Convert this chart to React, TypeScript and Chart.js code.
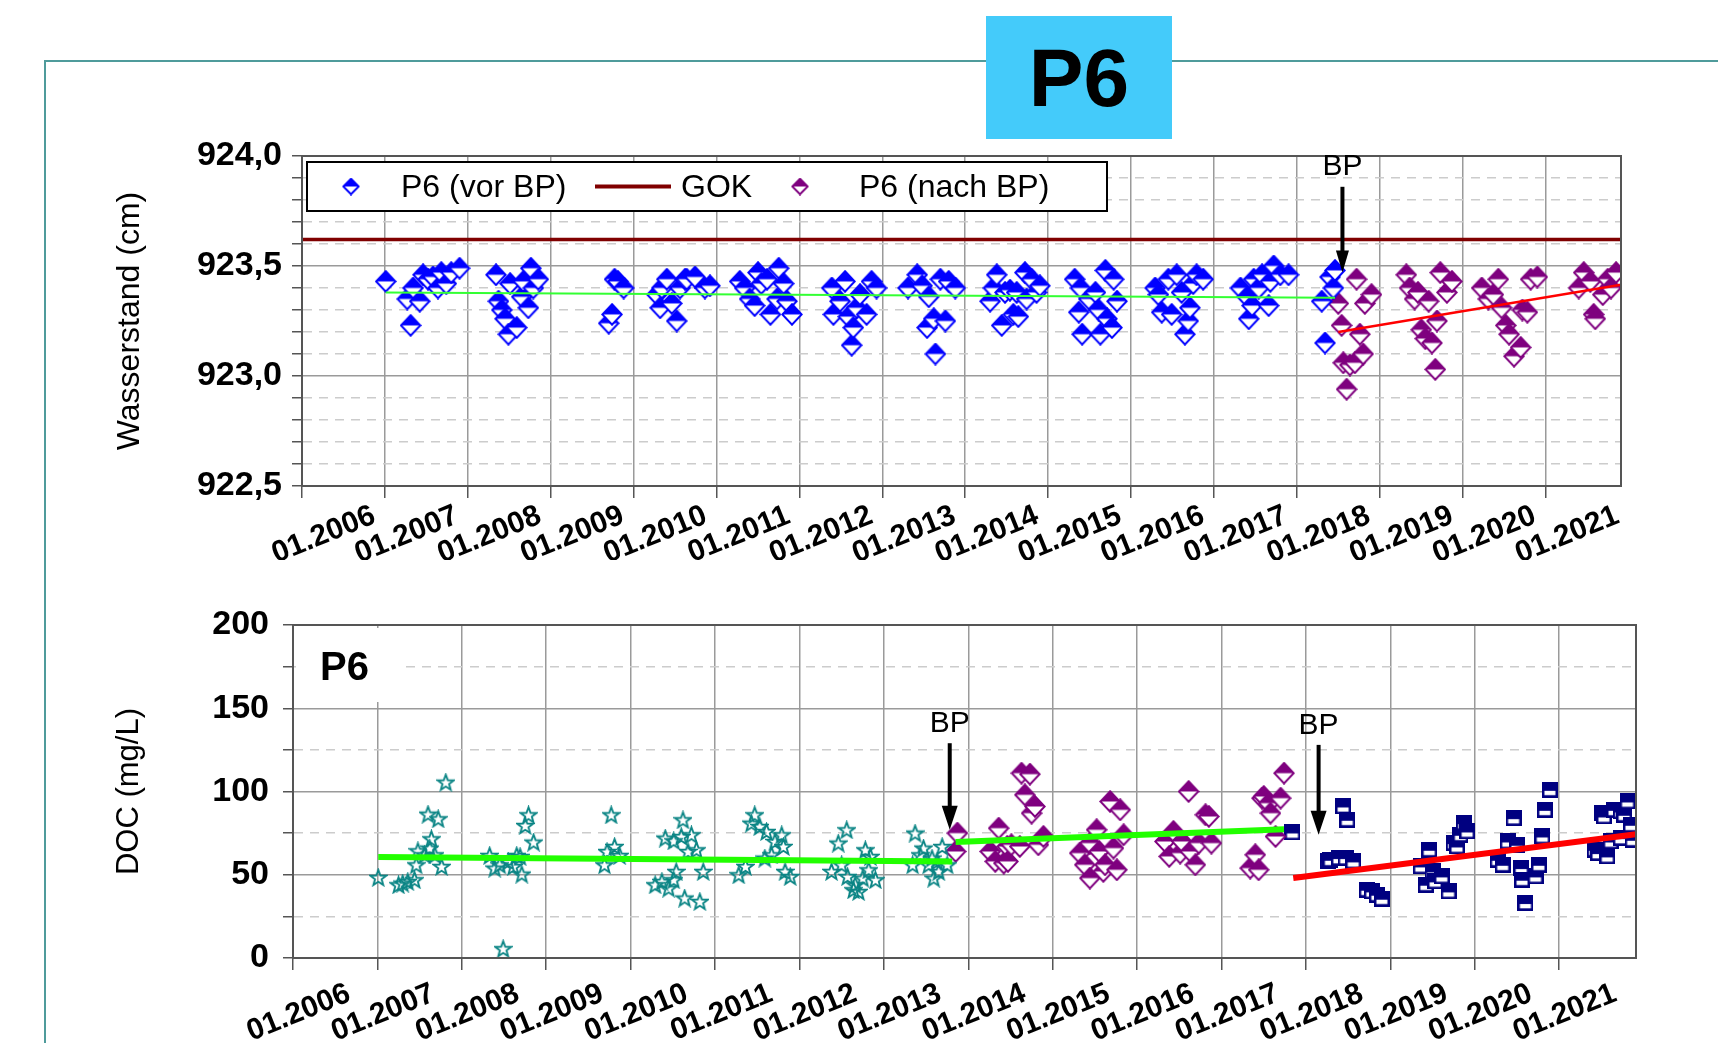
import React, { useEffect, useRef } from 'react';
import { Chart, registerables } from 'chart.js';

Chart.register(...registerables);

const FONT = "'Liberation Sans', Arial, Helvetica, sans-serif";

// ---------- axis ranges ----------
const X_MIN = 2006;
const X_MAX = 2021.91;
const WL_MIN = 922.5;
const WL_MAX = 924.0;
const DOC_MIN = 0;
const DOC_MAX = 200;

// ---------- Wasserstand: P6 (vor BP) ----------
const wlVorYears = [
  2007.01, 2007.27, 2007.31, 2007.42, 2007.34, 2007.46, 2007.52, 2007.58, 2007.64, 2007.68, 2007.74, 2007.80, 2007.90,
  2008.34, 2008.37, 2008.41, 2008.45, 2008.49, 2008.51, 2008.59, 2008.65, 2008.67, 2008.73, 2008.76, 2008.79, 2008.85,
  2009.70, 2009.74, 2009.77, 2009.81, 2009.88,
  2010.28, 2010.32, 2010.34, 2010.40, 2010.46, 2010.52, 2010.56, 2010.62, 2010.64, 2010.74, 2010.86, 2010.92,
  2011.28, 2011.34, 2011.40, 2011.46, 2011.50, 2011.54, 2011.61, 2011.65, 2011.73, 2011.75, 2011.81, 2011.85, 2011.91,
  2012.39, 2012.41, 2012.49, 2012.55, 2012.59, 2012.63, 2012.65, 2012.69, 2012.73, 2012.81, 2012.87, 2012.93,
  2013.31, 2013.42, 2013.48, 2013.54, 2013.56, 2013.62, 2013.64, 2013.70, 2013.76, 2013.80, 2013.88,
  2014.30, 2014.34, 2014.38, 2014.44, 2014.48, 2014.54, 2014.58, 2014.62, 2014.64, 2014.72, 2014.74, 2014.80, 2014.86, 2014.90,
  2015.32, 2015.37, 2015.39, 2015.41, 2015.49, 2015.57, 2015.61, 2015.63, 2015.69, 2015.71, 2015.77, 2015.79, 2015.83,
  2016.29, 2016.33, 2016.37, 2016.45, 2016.49, 2016.55, 2016.61, 2016.65, 2016.69, 2016.71, 2016.75, 2016.79, 2016.87,
  2017.32, 2017.40, 2017.42, 2017.46, 2017.48, 2017.54, 2017.58, 2017.66, 2017.68, 2017.72, 2017.80, 2017.90,
  2018.30, 2018.34, 2018.40, 2018.44, 2018.46,
];
const wlVorValues = [
  923.43, 923.35, 923.23, 923.34, 923.40, 923.46, 923.44, 923.45, 923.40, 923.47, 923.42, 923.47, 923.49,
  923.46, 923.34, 923.30, 923.26, 923.19, 923.42, 923.22, 923.36, 923.43, 923.31, 923.49, 923.40, 923.44,
  923.24, 923.28, 923.44, 923.43, 923.40,
  923.37, 923.31, 923.40, 923.44, 923.33, 923.25, 923.40, 923.44, 923.44, 923.45, 923.40, 923.41,
  923.43, 923.40, 923.35, 923.32, 923.47, 923.42, 923.44, 923.28, 923.35, 923.49, 923.42, 923.34, 923.28,
  923.40, 923.28, 923.34, 923.43, 923.27, 923.14, 923.22, 923.31, 923.37, 923.28, 923.43, 923.40,
  923.40, 923.46, 923.41, 923.22, 923.36, 923.26, 923.10, 923.44, 923.25, 923.43, 923.40,
  923.34, 923.40, 923.46, 923.23, 923.38, 923.39, 923.28, 923.38, 923.27, 923.47, 923.35, 923.44, 923.38, 923.41,
  923.44, 923.29, 923.40, 923.19, 923.35, 923.38, 923.30, 923.19, 923.48, 923.26, 923.22, 923.44, 923.34,
  923.40, 923.37, 923.29, 923.44, 923.28, 923.46, 923.38, 923.19, 923.25, 923.31, 923.42, 923.46, 923.44,
  923.40, 923.36, 923.26, 923.32, 923.44, 923.40, 923.46, 923.32, 923.43, 923.50, 923.46, 923.46,
  923.34, 923.15, 923.45, 923.40, 923.48,
];

// ---------- Wasserstand: P6 (nach BP) ----------
const wlNachYears = [
  2018.50, 2018.54, 2018.56, 2018.60, 2018.64, 2018.70, 2018.72, 2018.76, 2018.80, 2018.82, 2018.90,
  2019.32, 2019.36, 2019.42, 2019.46, 2019.50, 2019.55, 2019.59, 2019.63, 2019.67, 2019.69, 2019.73, 2019.81, 2019.87,
  2020.23, 2020.31, 2020.37, 2020.43, 2020.47, 2020.52, 2020.56, 2020.62, 2020.70, 2020.72, 2020.78, 2020.82, 2020.90,
  2021.40, 2021.46, 2021.54, 2021.58, 2021.60, 2021.69, 2021.75, 2021.79, 2021.85,
];
const wlNachValues = [
  923.33, 923.23, 923.06, 922.94, 923.05, 923.06, 923.44, 923.19, 923.10, 923.33, 923.37,
  923.46, 923.40, 923.35, 923.38, 923.21, 923.17, 923.34, 923.15, 923.03, 923.25, 923.47, 923.38, 923.43,
  923.40, 923.35, 923.37, 923.44, 923.31, 923.23, 923.19, 923.09, 923.13, 923.30, 923.29, 923.44, 923.45,
  923.40, 923.47, 923.43, 923.28, 923.26, 923.37, 923.44, 923.40, 923.47,
];

// GOK level and trend lines (Wasserstand)
const gokValue = 923.62;
const wlTrendVorYears = [2007.01, 2018.46];
const wlTrendVorValues = [923.379, 923.356];
const wlTrendNachYears = [2018.5, 2021.91];
const wlTrendNachValues = [923.2, 923.415];
// BP arrow (Wasserstand): year, arrow top value, arrow tip value
const wlBpYears = [2018.55];
const wlBpTop = [923.86];
const wlBpTip = [923.47];

// ---------- DOC ----------
const docStarYears = [
  2007.01, 2007.25, 2007.30, 2007.36, 2007.44, 2007.46, 2007.48, 2007.56, 2007.60, 2007.62, 2007.64, 2007.68, 2007.72, 2007.76, 2007.81,
  2008.33, 2008.39, 2008.45, 2008.49, 2008.55, 2008.61, 2008.65, 2008.69, 2008.71, 2008.75, 2008.79, 2008.85,
  2009.69, 2009.72, 2009.77, 2009.81, 2009.87,
  2010.29, 2010.37, 2010.41, 2010.45, 2010.51, 2010.51, 2010.54, 2010.60, 2010.62, 2010.64, 2010.68, 2010.72, 2010.78, 2010.82, 2010.86,
  2011.28, 2011.36, 2011.43, 2011.47, 2011.53, 2011.59, 2011.61, 2011.67, 2011.71, 2011.79, 2011.81, 2011.83, 2011.89,
  2012.38, 2012.46, 2012.50, 2012.56, 2012.57, 2012.64, 2012.66, 2012.70, 2012.75, 2012.78, 2012.82, 2012.84, 2012.90,
  2013.34, 2013.37, 2013.43, 2013.47, 2013.53, 2013.57, 2013.59, 2013.63, 2013.65, 2013.69, 2013.75,
];
const docStarValues = [
  48.4, 44, 45, 46, 47, 56, 64.4, 62, 86.4, 66, 71.6, 62, 83.6, 55, 105.6,
  61.6, 54, 56, 5.6, 58, 55, 61.6, 61, 50.4, 79.6, 86, 69.6,
  56, 64, 86, 67, 61.6,
  44, 46, 72, 42, 70.4, 47, 52, 73, 83, 36, 64, 74, 65, 34, 52,
  50, 55, 81, 86, 79, 60, 76, 62, 70, 74, 67, 52, 49,
  52, 69, 56, 77, 49, 41, 44, 40, 48, 65, 53, 61, 47,
  56, 75, 62, 66, 56, 60, 48, 58, 52, 67, 56,
];

const docDiamondYears = [
  2013.85, 2013.87, 2014.26, 2014.32, 2014.36, 2014.42, 2014.46, 2014.47, 2014.51, 2014.61, 2014.63, 2014.67, 2014.73, 2014.75, 2014.79, 2014.83, 2014.89,
  2015.32, 2015.38, 2015.44, 2015.44, 2015.52, 2015.55, 2015.60, 2015.62, 2015.68, 2015.72, 2015.76, 2015.80, 2015.84,
  2016.33, 2016.38, 2016.43, 2016.51, 2016.53, 2016.61, 2016.63, 2016.69, 2016.73, 2016.81, 2016.85, 2016.88,
  2017.34, 2017.40, 2017.44, 2017.48, 2017.50, 2017.56, 2017.58, 2017.64, 2017.70, 2017.74,
];
const docDiamondValues = [
  64, 75, 64, 58, 78, 57, 67, 58, 68, 67, 111, 98, 110.4, 87, 91, 68, 73,
  63, 56, 69, 48, 77, 64, 52, 56, 94, 66, 53, 89, 74,
  70, 61, 76, 63, 70, 100, 64, 56, 69, 86, 85, 69,
  54, 62, 53, 96, 97, 93, 87, 73, 96, 111,
];

const docSquareYears = [
  2017.84, 2018.26, 2018.29, 2018.39, 2018.44, 2018.47, 2018.49, 2018.56, 2018.72, 2018.78, 2018.84, 2018.90,
  2019.36, 2019.42, 2019.46, 2019.50, 2019.53, 2019.61, 2019.69, 2019.75, 2019.79, 2019.83, 2019.87, 2019.91,
  2020.27, 2020.33, 2020.39, 2020.46, 2020.50, 2020.55, 2020.56, 2020.60, 2020.72, 2020.76, 2020.80, 2020.83, 2020.89,
  2021.42, 2021.46, 2021.51, 2021.53, 2021.57, 2021.61, 2021.65, 2021.73, 2021.73, 2021.77, 2021.81, 2021.85, 2021.87,
];
const docSquareValues = [
  75.4, 58, 59, 60, 91, 60, 83, 58, 41, 40, 38, 35.6,
  55, 44, 65, 52, 46, 49, 40, 69, 67, 74, 81, 76,
  59, 56, 70, 84, 68, 54, 47, 33, 49, 56, 73, 89, 101,
  65, 63, 87, 85, 61, 70, 89, 88, 72, 86, 94, 80, 71,
];

const docTrend1Years = [2007.01, 2013.81];
const docTrend1Values = [60.6, 58.0];
const docTrend2Years = [2013.85, 2017.74];
const docTrend2Values = [69.6, 77.4];
const docTrend3Years = [2017.85, 2021.91];
const docTrend3Values = [48, 74.4];
const docBpYears = [2013.78, 2018.15];
const docBpTop = [129, 128];
const docBpTip = [77, 74];

const pts = (xs: number[], ys: number[]) => xs.map((x, i) => ({ x, y: ys[i] }));

// ---------- marker images ----------
function diamondImg(color: string, w: number, h: number, lw = 2) {
  const c = document.createElement('canvas');
  c.width = w;
  c.height = h;
  const g = c.getContext('2d')!;
  const hx = w / 2;
  const hy = h / 2;
  const m = lw / 2 + 0.3;
  g.beginPath();
  g.moveTo(hx, m);
  g.lineTo(w - m, hy);
  g.lineTo(hx, h - m);
  g.lineTo(m, hy);
  g.closePath();
  g.fillStyle = '#ffffff';
  g.fill();
  g.save();
  g.clip();
  g.fillStyle = color;
  g.fillRect(0, 0, w, hy);
  g.restore();
  g.lineWidth = lw;
  g.strokeStyle = color;
  g.stroke();
  return c;
}

function squareImg(color: string, size: number) {
  const c = document.createElement('canvas');
  c.width = size;
  c.height = size;
  const g = c.getContext('2d')!;
  g.fillStyle = color;
  g.fillRect(0, 0, size, size);
  g.fillStyle = '#ffffff';
  g.fillRect(2.5, size * 0.56, size - 5, size * 0.27);
  return c;
}

function starImg(color: string, size: number) {
  const c = document.createElement('canvas');
  c.width = size;
  c.height = size;
  const g = c.getContext('2d')!;
  const cx = size / 2;
  const cy = size / 2 + 0.8;
  const R = size / 2 - 1.2;
  const r = R * 0.42;
  g.beginPath();
  for (let i = 0; i < 10; i++) {
    const a = -Math.PI / 2 + (i * Math.PI) / 5;
    const rad = i % 2 === 0 ? R : r;
    const x = cx + rad * Math.cos(a);
    const y = cy + rad * Math.sin(a);
    if (i === 0) g.moveTo(x, y);
    else g.lineTo(x, y);
  }
  g.closePath();
  g.lineWidth = 1.9;
  g.strokeStyle = color;
  g.stroke();
  return c;
}

const BLUE = '#0000ff';
const PURPLE = '#7f007f';
const NAVY = '#000080';
const TEAL = '#0b8585';

function drawArrow(ctx: CanvasRenderingContext2D, x: number, yTop: number, yTip: number, headW: number, headH: number) {
  ctx.save();
  ctx.strokeStyle = '#000';
  ctx.fillStyle = '#000';
  ctx.lineWidth = 4;
  ctx.beginPath();
  ctx.moveTo(x, yTop);
  ctx.lineTo(x, yTip - headH + 2);
  ctx.stroke();
  ctx.beginPath();
  ctx.moveTo(x - headW / 2, yTip - headH);
  ctx.lineTo(x + headW / 2, yTip - headH);
  ctx.lineTo(x, yTip);
  ctx.closePath();
  ctx.fill();
  ctx.restore();
}

function frameArea(chart: any) {
  const { ctx, chartArea: a } = chart;
  ctx.save();
  ctx.strokeStyle = '#555';
  ctx.lineWidth = 2;
  ctx.strokeRect(a.left, a.top, a.right - a.left, a.bottom - a.top);
  ctx.restore();
}

const isMult = (v: number, step: number) => Math.abs(v / step - Math.round(v / step)) < 1e-6;

export default function App() {
  const topRef = useRef<HTMLCanvasElement>(null);
  const botRef = useRef<HTMLCanvasElement>(null);

  useEffect(() => {
    document.body.style.margin = '0';
    const dBlue = diamondImg(BLUE, 22, 23);
    const dPurple = diamondImg(PURPLE, 22, 23);
    const dBlueSmall = diamondImg(BLUE, 18, 18);
    const dPurpleSmall = diamondImg(PURPLE, 18, 18);
    const sq = squareImg(NAVY, 16);
    const st = starImg(TEAL, 19);

    const xScale = (offset: number, pad: number, height: number) => ({
      type: 'linear' as const,
      min: X_MIN,
      max: X_MAX,
      afterFit: (s: any) => {
        s.height = height;
      },
      ticks: {
        stepSize: 1,
        autoSkip: false,
        includeBounds: false,
        minRotation: 22,
        maxRotation: 22,
        labelOffset: offset,
        padding: pad,
        color: '#000',
        font: { family: FONT, size: 30, weight: 'bold' as const },
        callback: (v: any) => (Number.isInteger(v) ? '01.' + v : ''),
      },
      grid: { color: '#9a9a9a', lineWidth: 1.5, tickLength: 12, tickColor: '#555', tickWidth: 1.5 },
      border: { color: '#444', width: 2 },
    });

    // ---------- top chart ----------
    const topPlugin = {
      id: 'topDeco',
      afterDatasetsDraw(chart: any) {
        const { ctx, chartArea: a, scales } = chart;
        frameArea(chart);
        // legend box
        const lx = a.left + 5;
        const ly = a.top + 6;
        const lw = 800;
        const lh = 49;
        ctx.save();
        ctx.fillStyle = '#fff';
        ctx.fillRect(lx, ly, lw, lh);
        ctx.strokeStyle = '#000';
        ctx.lineWidth = 2;
        ctx.strokeRect(lx, ly, lw, lh);
        const cy = ly + lh / 2;
        ctx.drawImage(dBlueSmall, lx + 44 - 9, cy - 9);
        ctx.fillStyle = '#000';
        ctx.font = `32px ${FONT}`;
        ctx.textBaseline = 'middle';
        ctx.textAlign = 'left';
        ctx.fillText('P6 (vor BP)', lx + 94, cy + 2);
        ctx.strokeStyle = '#800000';
        ctx.lineWidth = 4;
        ctx.beginPath();
        ctx.moveTo(lx + 288, cy);
        ctx.lineTo(lx + 364, cy);
        ctx.stroke();
        ctx.fillText('GOK', lx + 374, cy + 2);
        ctx.drawImage(dPurpleSmall, lx + 493 - 9, cy - 9);
        ctx.fillText('P6 (nach BP)', lx + 552, cy + 2);
        ctx.restore();
        // BP arrow
        const xs = scales.x;
        const ys = scales.y;
        wlBpYears.forEach((yr, i) => {
          const x = xs.getPixelForValue(yr);
          const yTop = ys.getPixelForValue(wlBpTop[i]);
          const yTip = ys.getPixelForValue(wlBpTip[i]);
          drawArrow(ctx, x, yTop, yTip, 13, 22);
          ctx.save();
          ctx.fillStyle = '#000';
          ctx.font = `30px ${FONT}`;
          ctx.textAlign = 'center';
          ctx.textBaseline = 'alphabetic';
          ctx.fillText('BP', x, yTop - 12);
          ctx.restore();
        });
      },
    };

    const topChart = new Chart(topRef.current!, {
      type: 'scatter',
      data: {
        datasets: [
          {
            label: 'GOK',
            type: 'line',
            data: [
              { x: X_MIN, y: gokValue },
              { x: X_MAX, y: gokValue },
            ],
            borderColor: '#800000',
            borderWidth: 3.5,
            pointRadius: 0,
            order: 3,
          },
          {
            label: 'Trend vor BP',
            type: 'line',
            data: pts(wlTrendVorYears, wlTrendVorValues),
            borderColor: '#33ff33',
            borderWidth: 2,
            pointRadius: 0,
            order: 0,
          },
          {
            label: 'Trend nach BP',
            type: 'line',
            data: pts(wlTrendNachYears, wlTrendNachValues),
            borderColor: '#ff0000',
            borderWidth: 2.5,
            pointRadius: 0,
            order: 0,
          },
          {
            label: 'P6 (vor BP)',
            data: pts(wlVorYears, wlVorValues),
            pointStyle: dBlue as any,
            pointRadius: 8,
            order: 1,
          },
          {
            label: 'P6 (nach BP)',
            data: pts(wlNachYears, wlNachValues),
            pointStyle: dPurple as any,
            pointRadius: 8,
            order: 2,
          },
        ],
      } as any,
      options: {
        responsive: false,
        animation: false,
        devicePixelRatio: 1,
        events: [],
        layout: { padding: { left: 98, right: 97, top: 156, bottom: 0 } },
        plugins: { legend: { display: false }, tooltip: { enabled: false } },
        scales: {
          x: xScale(72, 0, 74) as any,
          y: {
            type: 'linear',
            min: WL_MIN,
            max: WL_MAX,
            afterFit: (s: any) => {
              s.width = 204;
            },
            ticks: {
              stepSize: 0.1,
              autoSkip: false,
              padding: 10,
              color: '#000',
              font: { family: FONT, size: 34, weight: 'bold' },
              callback: (v: any) => (isMult(v, 0.5) ? Number(v).toFixed(1).replace('.', ',') : ''),
            },
            grid: {
              color: (c: any) => (c.tick && isMult(c.tick.value, 0.5) ? '#9a9a9a' : '#cccccc'),
              lineWidth: 1.5,
              tickLength: 10,
              tickColor: '#555',
            },
            border: {
              color: '#444',
              width: 2,
              dash: (c: any) => (c.tick && !isMult(c.tick.value, 0.5) ? [9, 7] : []),
            },
            title: {
              display: true,
              text: 'Wasserstand (cm)',
              color: '#000',
              font: { family: FONT, size: 32 },
              padding: { top: 13, bottom: 0 },
            },
          },
        },
      } as any,
      plugins: [topPlugin],
    });

    // ---------- bottom chart ----------
    const botPlugin = {
      id: 'botDeco',
      beforeDatasetsDraw(chart: any) {
        const { ctx, chartArea: a } = chart;
        ctx.save();
        ctx.fillStyle = '#fff';
        ctx.fillRect(a.left + 3, a.top + 3, 106, 74);
        ctx.fillStyle = '#000';
        ctx.font = `bold 40px ${FONT}`;
        ctx.textAlign = 'left';
        ctx.textBaseline = 'alphabetic';
        ctx.fillText('P6', a.left + 27, a.top + 55);
        ctx.restore();
      },
      afterDatasetsDraw(chart: any) {
        const { ctx, scales } = chart;
        frameArea(chart);
        const xs = scales.x;
        const ys = scales.y;
        docBpYears.forEach((yr, i) => {
          const x = xs.getPixelForValue(yr);
          const yTop = ys.getPixelForValue(docBpTop[i]);
          const yTip = ys.getPixelForValue(docBpTip[i]);
          drawArrow(ctx, x, yTop, yTip, 16, 24);
          ctx.save();
          ctx.fillStyle = '#000';
          ctx.font = `30px ${FONT}`;
          ctx.textAlign = 'center';
          ctx.textBaseline = 'alphabetic';
          ctx.fillText('BP', x, yTop - 11);
          ctx.restore();
        });
      },
    };

    const botChart = new Chart(botRef.current!, {
      type: 'scatter',
      data: {
        datasets: [
          {
            label: 'Trend 1',
            type: 'line',
            data: pts(docTrend1Years, docTrend1Values),
            borderColor: '#22ff00',
            borderWidth: 6,
            pointRadius: 0,
            order: 0,
          },
          {
            label: 'Trend 2',
            type: 'line',
            data: pts(docTrend2Years, docTrend2Values),
            borderColor: '#22ff00',
            borderWidth: 6,
            pointRadius: 0,
            order: 0,
          },
          {
            label: 'Trend 3',
            type: 'line',
            data: pts(docTrend3Years, docTrend3Values),
            borderColor: '#ff0000',
            borderWidth: 6,
            pointRadius: 0,
            order: 0,
          },
          {
            label: 'DOC vor BP',
            data: pts(docStarYears, docStarValues),
            pointStyle: st as any,
            pointRadius: 8,
            order: 1,
          },
          {
            label: 'DOC zwischen BP',
            data: pts(docDiamondYears, docDiamondValues),
            pointStyle: dPurple as any,
            pointRadius: 8,
            order: 1,
          },
          {
            label: 'DOC nach BP',
            data: pts(docSquareYears, docSquareValues),
            pointStyle: sq as any,
            pointRadius: 8,
            order: 1,
          },
        ],
      } as any,
      options: {
        responsive: false,
        animation: false,
        devicePixelRatio: 1,
        events: [],
        layout: { padding: { left: 98, right: 82, top: 65, bottom: 0 } },
        plugins: { legend: { display: false }, tooltip: { enabled: false } },
        scales: {
          x: xScale(56, 6, 85) as any,
          y: {
            type: 'linear',
            min: DOC_MIN,
            max: DOC_MAX,
            afterFit: (s: any) => {
              s.width = 195;
            },
            ticks: {
              stepSize: 25,
              autoSkip: false,
              padding: 14,
              color: '#000',
              font: { family: FONT, size: 34, weight: 'bold' },
              callback: (v: any) => (isMult(v, 50) ? String(v) : ''),
            },
            grid: {
              color: (c: any) => (c.tick && isMult(c.tick.value, 50) ? '#9a9a9a' : '#cccccc'),
              lineWidth: 1.5,
              tickLength: 10,
              tickColor: '#555',
            },
            border: {
              color: '#444',
              width: 2,
              dash: (c: any) => (c.tick && !isMult(c.tick.value, 50) ? [9, 7] : []),
            },
            title: {
              display: true,
              text: 'DOC (mg/L)',
              color: '#000',
              font: { family: FONT, size: 31 },
              padding: { top: 13, bottom: 0 },
            },
          },
        },
      } as any,
      plugins: [botPlugin],
    });

    return () => {
      topChart.destroy();
      botChart.destroy();
    };
  }, []);

  return (
    <div style={{ position: 'relative', width: 1718, height: 1043, overflow: 'hidden', background: '#fff' }}>
      <div
        style={{
          position: 'absolute',
          left: 44,
          top: 60,
          width: 1720,
          height: 1100,
          border: '2px solid #4f9b9b',
        }}
      />
      <canvas ref={topRef} width={1718} height={560} style={{ position: 'absolute', left: 0, top: 0 }} />
      <canvas ref={botRef} width={1718} height={483} style={{ position: 'absolute', left: 0, top: 560 }} />
      <div
        style={{
          position: 'absolute',
          left: 986,
          top: 16,
          width: 186,
          height: 123,
          background: '#44cbfa',
          display: 'flex',
          alignItems: 'center',
          justifyContent: 'center',
          fontFamily: FONT,
          fontWeight: 'bold',
          fontSize: 82,
          color: '#000',
        }}
      >
        P6
      </div>
    </div>
  );
}
